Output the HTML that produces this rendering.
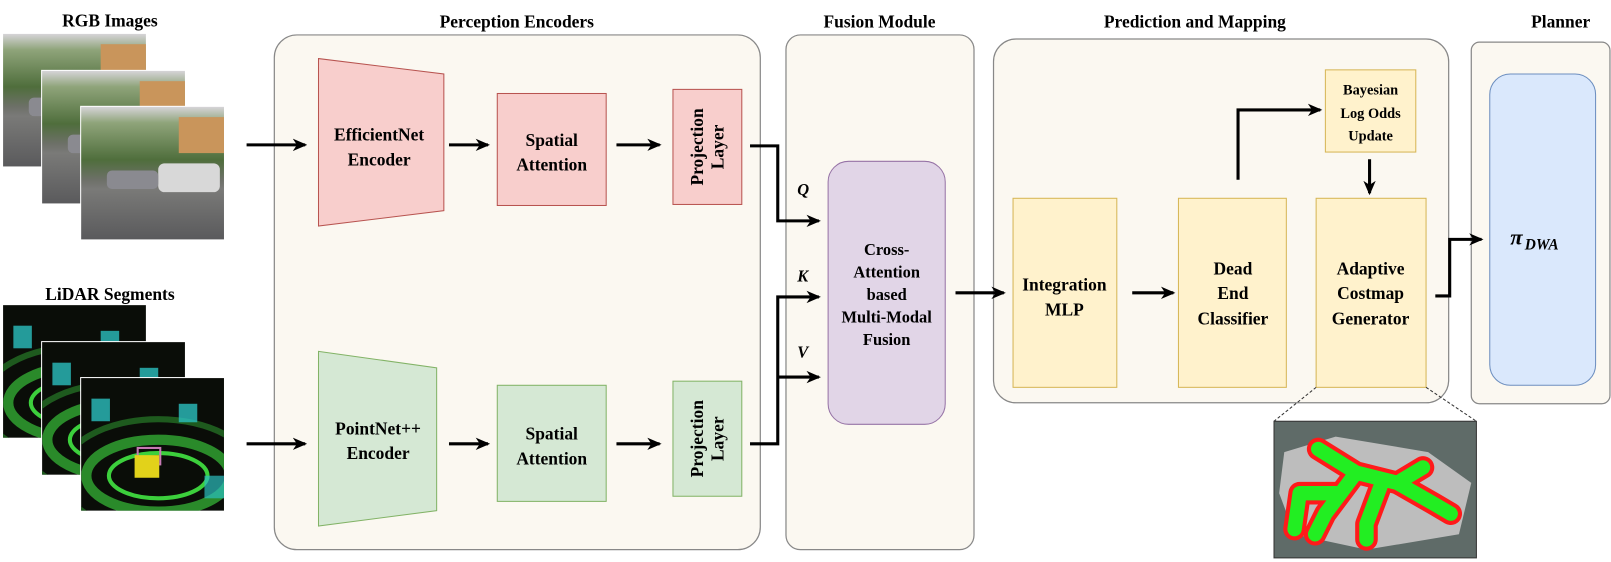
<!DOCTYPE html>
<html><head><meta charset="utf-8"><style>
html,body{margin:0;padding:0;background:#fff}
svg{display:block}
text{font-family:"Liberation Serif",serif;font-weight:bold;fill:#000}
</style></head><body>
<svg width="1611" height="562" viewBox="0 0 1568 547" preserveAspectRatio="none" xmlns="http://www.w3.org/2000/svg">
<defs>
<marker id="ah" markerWidth="14" markerHeight="14" refX="12" refY="7" orient="auto" markerUnits="userSpaceOnUse" viewBox="0 0 14 14">
<path d="M0,1 L14,7 L0,13 L4,7 z" fill="#000"/></marker>
<linearGradient id="rgb" x1="0" y1="0" x2="0" y2="1">
<stop offset="0" stop-color="#d6d4d8"/><stop offset="0.12" stop-color="#8fa47a"/><stop offset="0.4" stop-color="#4f6e3c"/><stop offset="0.55" stop-color="#6d7068"/><stop offset="0.62" stop-color="#7a7a78"/><stop offset="1" stop-color="#5a5a5c"/></linearGradient>
<clipPath id="cp"><rect width="139" height="129"/></clipPath>
<g id="rgbimg"><rect width="139" height="129" fill="url(#rgb)"/><rect x="95" y="10" width="44" height="35" fill="#c9955b"/><rect x="75" y="55" width="60" height="28" rx="6" fill="#d8d8d8"/><rect x="25" y="62" width="50" height="18" rx="5" fill="#8a8a90"/></g>
<g id="lidimg"><rect width="139" height="129" fill="#0a0d08"/>
<g clip-path="url(#cp)">
<ellipse cx="75" cy="95" rx="95" ry="55" fill="none" stroke="#1e5a1e" stroke-width="6"/>
<ellipse cx="75" cy="95" rx="70" ry="35" fill="none" stroke="#2a8a2a" stroke-width="10"/>
<ellipse cx="75" cy="95" rx="48" ry="22" fill="none" stroke="#3ccf3c" stroke-width="4"/>
<rect x="55" y="68" width="22" height="16" fill="none" stroke="#c87ab5" stroke-width="2"/>
<rect x="10" y="20" width="18" height="22" fill="#2bbfbf" opacity="0.8"/>
<rect x="95" y="25" width="18" height="18" fill="#2bbfbf" opacity="0.8"/>
<rect x="120" y="95" width="19" height="22" fill="#2bbfbf" opacity="0.7"/></g></g>
</defs>

<text x="107" y="26" font-size="17" text-anchor="middle">RGB Images</text>
<text x="503" y="27" font-size="17" text-anchor="middle">Perception Encoders</text>
<text x="856" y="27" font-size="17" text-anchor="middle">Fusion Module</text>
<text x="1163" y="27" font-size="17" text-anchor="middle">Prediction and Mapping</text>
<text x="1519" y="27" font-size="17" text-anchor="middle">Planner</text>
<text x="107" y="292" font-size="17" text-anchor="middle">LiDAR Segments</text>

<use href="#rgbimg" x="3" y="33"/>
<rect x="40" y="68" width="141" height="131" fill="#fff"/><use href="#rgbimg" x="41" y="69"/>
<rect x="78" y="103" width="141" height="131" fill="#fff"/><use href="#rgbimg" x="79" y="104"/>
<use href="#lidimg" x="3" y="297"/>
<rect x="40" y="332" width="141" height="131" fill="#fff"/><use href="#lidimg" x="41" y="333"/>
<rect x="78" y="367" width="141" height="131" fill="#fff"/><use href="#lidimg" x="79" y="368"/>
<rect x="131" y="443" width="24" height="22" fill="#e2d21a"/>

<rect x="267" y="34" width="473" height="501" rx="22" fill="#fbf8f1" stroke="#888" stroke-width="1.2"/>
<rect x="765" y="34" width="183" height="501" rx="14" fill="#fbf8f1" stroke="#888" stroke-width="1.2"/>
<rect x="967" y="38" width="443" height="354" rx="22" fill="#fbf8f1" stroke="#888" stroke-width="1.2"/>
<rect x="1432" y="41" width="135" height="352" rx="8" fill="#fbf8f1" stroke="#888" stroke-width="1.2"/>

<polygon points="310,57 432,72 432,205 310,220" fill="#f8cecc" stroke="#b85450"/>
<text x="369" y="137" font-size="17" text-anchor="middle">EfficientNet</text>
<text x="369" y="161" font-size="17" text-anchor="middle">Encoder</text>
<rect x="484" y="91" width="106" height="109" fill="#f8cecc" stroke="#b85450"/>
<text x="537" y="142" font-size="17" text-anchor="middle">Spatial</text>
<text x="537" y="166" font-size="17" text-anchor="middle">Attention</text>
<rect x="655" y="87" width="67" height="112" fill="#f8cecc" stroke="#b85450"/>
<g transform="translate(688,143) rotate(-90)"><text x="0" y="-4" font-size="17" text-anchor="middle">Projection</text><text x="0" y="16" font-size="17" text-anchor="middle">Layer</text></g>

<polygon points="310,342 425,358 425,497 310,512" fill="#d5e8d4" stroke="#82b366"/>
<text x="368" y="423" font-size="17" text-anchor="middle">PointNet++</text>
<text x="368" y="447" font-size="17" text-anchor="middle">Encoder</text>
<rect x="484" y="375" width="106" height="113" fill="#d5e8d4" stroke="#82b366"/>
<text x="537" y="428" font-size="17" text-anchor="middle">Spatial</text>
<text x="537" y="452" font-size="17" text-anchor="middle">Attention</text>
<rect x="655" y="371" width="67" height="112" fill="#d5e8d4" stroke="#82b366"/>
<g transform="translate(688,427) rotate(-90)"><text x="0" y="-4" font-size="17" text-anchor="middle">Projection</text><text x="0" y="16" font-size="17" text-anchor="middle">Layer</text></g>

<g stroke="#000" stroke-width="3" fill="none" marker-end="url(#ah)">
<line x1="240" y1="141" x2="297" y2="141"/>
<line x1="437" y1="141" x2="475" y2="141"/>
<line x1="600" y1="141" x2="642" y2="141"/>
<line x1="240" y1="432" x2="297" y2="432"/>
<line x1="437" y1="432" x2="475" y2="432"/>
<line x1="600" y1="432" x2="642" y2="432"/>
<polyline points="730,142 757,142 757,215 797,215"/>
<polyline points="730,432 757,432 757,289 797,289"/>
<line x1="757" y1="367" x2="797" y2="367"/>
<line x1="930" y1="285" x2="977" y2="285"/>
<line x1="1102" y1="285" x2="1142" y2="285"/>
<polyline points="1205,175 1205,107 1285,107"/>
<line x1="1333" y1="155" x2="1333" y2="188"/>
<polyline points="1397,288 1411,288 1411,233 1442,233"/>
</g>
<text x="776" y="190" font-size="16" font-style="italic" font-weight="normal">Q</text>
<text x="776" y="274" font-size="16" font-style="italic" font-weight="normal">K</text>
<text x="776" y="348" font-size="16" font-style="italic" font-weight="normal">V</text>

<rect x="806" y="157" width="114" height="256" rx="20" fill="#e1d5e7" stroke="#9673a6"/>
<text font-size="16" text-anchor="middle"><tspan x="863" y="248">Cross-</tspan><tspan x="863" y="270">Attention</tspan><tspan x="863" y="292">based</tspan><tspan x="863" y="314">Multi-Modal</tspan><tspan x="863" y="336">Fusion</tspan></text>

<rect x="986" y="193" width="101" height="184" fill="#fff2cc" stroke="#d6b656"/>
<text x="1036" y="283" font-size="17" text-anchor="middle">Integration</text>
<text x="1036" y="307" font-size="17" text-anchor="middle">MLP</text>
<rect x="1147" y="193" width="105" height="184" fill="#fff2cc" stroke="#d6b656"/>
<text font-size="17" text-anchor="middle"><tspan x="1200" y="267">Dead</tspan><tspan x="1200" y="291">End</tspan><tspan x="1200" y="316">Classifier</tspan></text>
<rect x="1281" y="193" width="107" height="184" fill="#fff2cc" stroke="#d6b656"/>
<text font-size="17" text-anchor="middle"><tspan x="1334" y="267">Adaptive</tspan><tspan x="1334" y="291">Costmap</tspan><tspan x="1334" y="316">Generator</tspan></text>
<rect x="1290" y="68" width="88" height="80" fill="#fff2cc" stroke="#d6b656"/>
<text font-size="14" text-anchor="middle"><tspan x="1334" y="92">Bayesian</tspan><tspan x="1334" y="115">Log Odds</tspan><tspan x="1334" y="137">Update</tspan></text>

<line x1="1281" y1="377" x2="1240" y2="410" stroke="#333" stroke-dasharray="3,2"/>
<line x1="1388" y1="377" x2="1437" y2="410" stroke="#333" stroke-dasharray="3,2"/>
<rect x="1240" y="410" width="197" height="133" fill="#5f6b68" stroke="#333"/>
<polygon points="1250,440 1300,425 1390,440 1432,470 1420,520 1330,535 1260,520 1245,480" fill="#bdbdbd"/>
<g fill="none" stroke-linecap="round" stroke-linejoin="round">
<path d="M1283,437 L1320,460 L1360,470 L1395,490 L1412,500 M1320,460 L1290,500 L1280,520 M1300,480 L1265,480 L1260,515 M1345,470 L1330,510 L1330,525 M1360,470 L1385,455" stroke="#ff1a1a" stroke-width="22"/>
<path d="M1283,437 L1320,460 L1360,470 L1395,490 L1412,500 M1320,460 L1290,500 L1280,520 M1300,480 L1265,480 L1260,515 M1345,470 L1330,510 L1330,525 M1360,470 L1385,455" stroke="#22ee22" stroke-width="14"/>
</g>

<rect x="1450" y="72" width="103" height="303" rx="20" fill="#dae8fc" stroke="#6c8ebf"/>
<text x="1470" y="238" font-size="22" font-weight="normal" font-style="italic">π</text>
<text x="1484" y="243" font-size="15" font-weight="normal" font-style="italic">DWA</text>
</svg>
</body></html>
